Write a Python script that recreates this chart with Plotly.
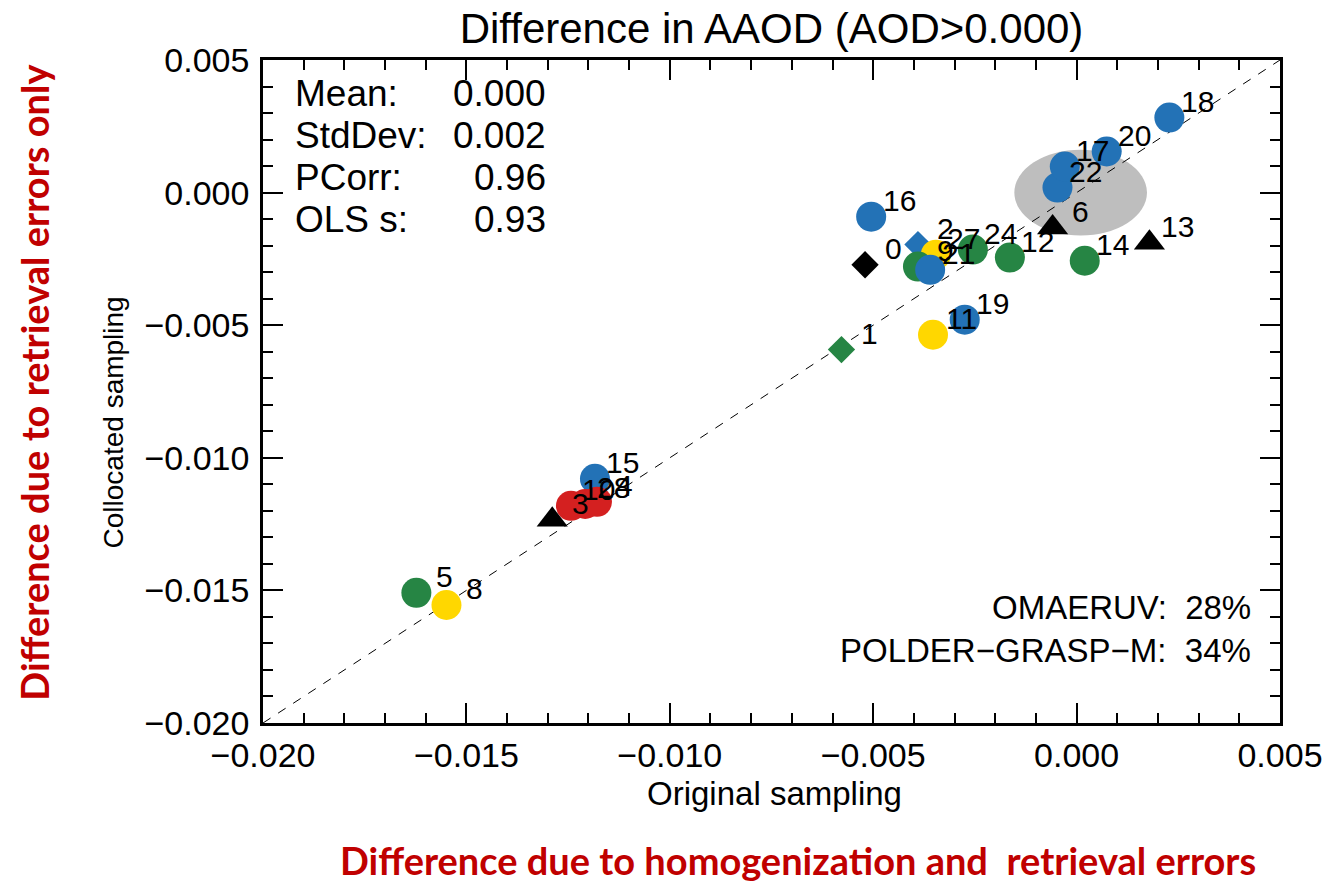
import plotly.graph_objects as go

# ---- data ----
labels = ["16", "0", "1", "2", "27", "9", "21", "24", "12", "14", "13", "6",
          "22", "17", "20", "18", "19", "11", "15", "10", "28", "4", "3", "5", "8"]
orig = [-0.00505, -0.00520, -0.00578, -0.00390, -0.00346, -0.00390, -0.00360, -0.00255,
        -0.00164, 0.00020, 0.00179, -0.00059, -0.00047, -0.00029, 0.00074, 0.00228,
        -0.00275, -0.00353, -0.01184, -0.01243, -0.01208, -0.01179, -0.01289, -0.01623, -0.01549]
coll = [-0.00091, -0.00272, -0.00592, -0.00196, -0.00234, -0.00279, -0.00291, -0.00215,
        -0.00245, -0.00257, -0.00189, -0.00132, 0.00019, 0.00098, 0.00155, 0.00283,
        -0.00479, -0.00536, -0.01079, -0.01181, -0.01174, -0.01166, -0.01234, -0.01509, -0.01555]
groups = ["blue", "black", "green", "blue", "yellow", "green", "blue", "green",
          "green", "green", "black", "black", "blue", "blue", "blue", "blue",
          "blue", "yellow", "blue", "red", "red", "red", "black", "green", "yellow"]
shapes_ = ["circle", "diamond", "diamond", "diamond", "circle", "circle", "circle", "circle",
           "circle", "circle", "triangle-up", "triangle-up", "circle", "circle", "circle", "circle",
           "circle", "circle", "circle", "circle", "circle", "circle", "triangle-up", "circle", "circle"]

stat_names = ["Mean:", "StdDev:", "PCorr:", "OLS s:"]
stat_values = ["0.000", "0.002", "0.96", "0.93"]
share_names = ["OMAERUV:", "POLDER\u2212GRASP\u2212M:"]
share_values = ["28%", "34%"]

axis_range = [-0.020, 0.005]
ellipse_center = (0.0001, 0.0)
ellipse_radius = (0.00163, 0.00162)

# ---- styling ----
palette = {"blue": "#2372B6", "green": "#268544", "yellow": "#FFD700",
           "red": "#D42020", "black": "#000000"}
sizes = {"circle": 30, "diamond": 21, "triangle-up": 27}
FONT = "Liberation Sans, Arial, sans-serif"
RED_FONT = "Lato, Open Sans, sans-serif"

PLOT_L, PLOT_R, PLOT_T, PLOT_B = 263, 1283, 60, 723
W, H = 1335, 884


def px_x(p):
    return (p - PLOT_L) / (PLOT_R - PLOT_L)


def px_y(p):
    return (PLOT_B - p) / (PLOT_B - PLOT_T)


fig = go.Figure()

# 1:1 line
fig.add_trace(go.Scatter(x=axis_range, y=axis_range, mode="lines",
                         line=dict(color="black", width=1, dash="9px,9px"),
                         hoverinfo="skip", showlegend=False))

fig.add_trace(go.Scatter(
    x=orig, y=coll, mode="markers",
    marker=dict(color=[palette[g] for g in groups],
                symbol=shapes_,
                size=[sizes[s] for s in shapes_],
                opacity=1,
                line=dict(width=0)),
    showlegend=False))

# point labels
for lx, ly, lt in zip(orig, coll, labels):
    fig.add_annotation(x=lx, y=ly, text=lt, showarrow=False, xshift=28, yshift=16,
                       xanchor="center", yanchor="middle",
                       font=dict(family=FONT, size=30, color="black"))

# grey ellipse
fig.add_shape(type="circle", xref="x", yref="y",
              x0=ellipse_center[0] - ellipse_radius[0], x1=ellipse_center[0] + ellipse_radius[0],
              y0=ellipse_center[1] - ellipse_radius[1], y1=ellipse_center[1] + ellipse_radius[1],
              fillcolor="#BEBEBE", line=dict(width=0), layer="below")

# statistics
stat_y = [93, 135, 177, 219]
for n, v, yy in zip(stat_names, stat_values, stat_y):
    fig.add_annotation(x=px_x(293), y=px_y(yy), xref="paper", yref="paper", text=n, showarrow=False,
                       xanchor="left", yanchor="middle", font=dict(family=FONT, size=37, color="black"))
    fig.add_annotation(x=px_x(549), y=px_y(yy), xref="paper", yref="paper", text=v, showarrow=False,
                       xanchor="right", yanchor="middle", font=dict(family=FONT, size=37, color="black"))

share_y = [607, 650]
for n, v, yy in zip(share_names, share_values, share_y):
    fig.add_annotation(x=px_x(1256), y=px_y(yy), xref="paper", yref="paper",
                       text=n + "\u00a0\u00a0" + v, showarrow=False,
                       xanchor="right", yanchor="middle", font=dict(family=FONT, size=33, color="black"))

# axis titles
fig.add_annotation(x=px_x(776), y=px_y(793), xref="paper", yref="paper", text="Original sampling",
                   showarrow=False, xanchor="center", yanchor="middle",
                   font=dict(family=FONT, size=33, color="black"))
fig.add_annotation(x=px_x(113), y=px_y(422), xref="paper", yref="paper", text="Collocated sampling",
                   showarrow=False, textangle=-90, xanchor="center", yanchor="middle",
                   font=dict(family=FONT, size=28, color="black"))

# red annotations
fig.add_annotation(x=px_x(33), y=px_y(382), xref="paper", yref="paper",
                   text="<b>Difference due to retrieval errors only</b>", showarrow=False,
                   textangle=-90, xanchor="center", yanchor="middle",
                   font=dict(family=RED_FONT, size=38, color="#C00000"))
fig.add_annotation(x=px_x(800), y=px_y(860), xref="paper", yref="paper",
                   text="<b>Difference due to homogenization and\u00a0 retrieval errors</b>",
                   showarrow=False, xanchor="center", yanchor="middle",
                   font=dict(family=RED_FONT, size=38, color="#C00000"))

axis_common = dict(range=axis_range, dtick=0.005, tick0=0, tickformat=".3f",
                   showgrid=False, zeroline=False, showline=True, linecolor="black",
                   linewidth=2.5, mirror="ticks", ticks="inside", ticklen=20, tickwidth=2,
                   tickcolor="black", tickfont=dict(family=FONT, size=34, color="black"),
                   minor=dict(dtick=0.001, ticks="inside", ticklen=10, tickwidth=2,
                              tickcolor="black", showgrid=False))
fig.update_xaxes(**axis_common, ticklabelstandoff=0)
fig.update_yaxes(**axis_common, ticklabelstandoff=4)

fig.update_layout(
    width=W, height=H,
    margin=dict(l=PLOT_L, r=W - PLOT_R, t=PLOT_T, b=H - PLOT_B),
    paper_bgcolor="white", plot_bgcolor="white",
    title=dict(text="Difference in AAOD (AOD>0.000)", x=px_x(773), xref="paper",
               xanchor="center", y=1 - 28 / H, yanchor="middle",
               font=dict(family=FONT, size=42, color="black")),
)

fig.write_html("out.html")
